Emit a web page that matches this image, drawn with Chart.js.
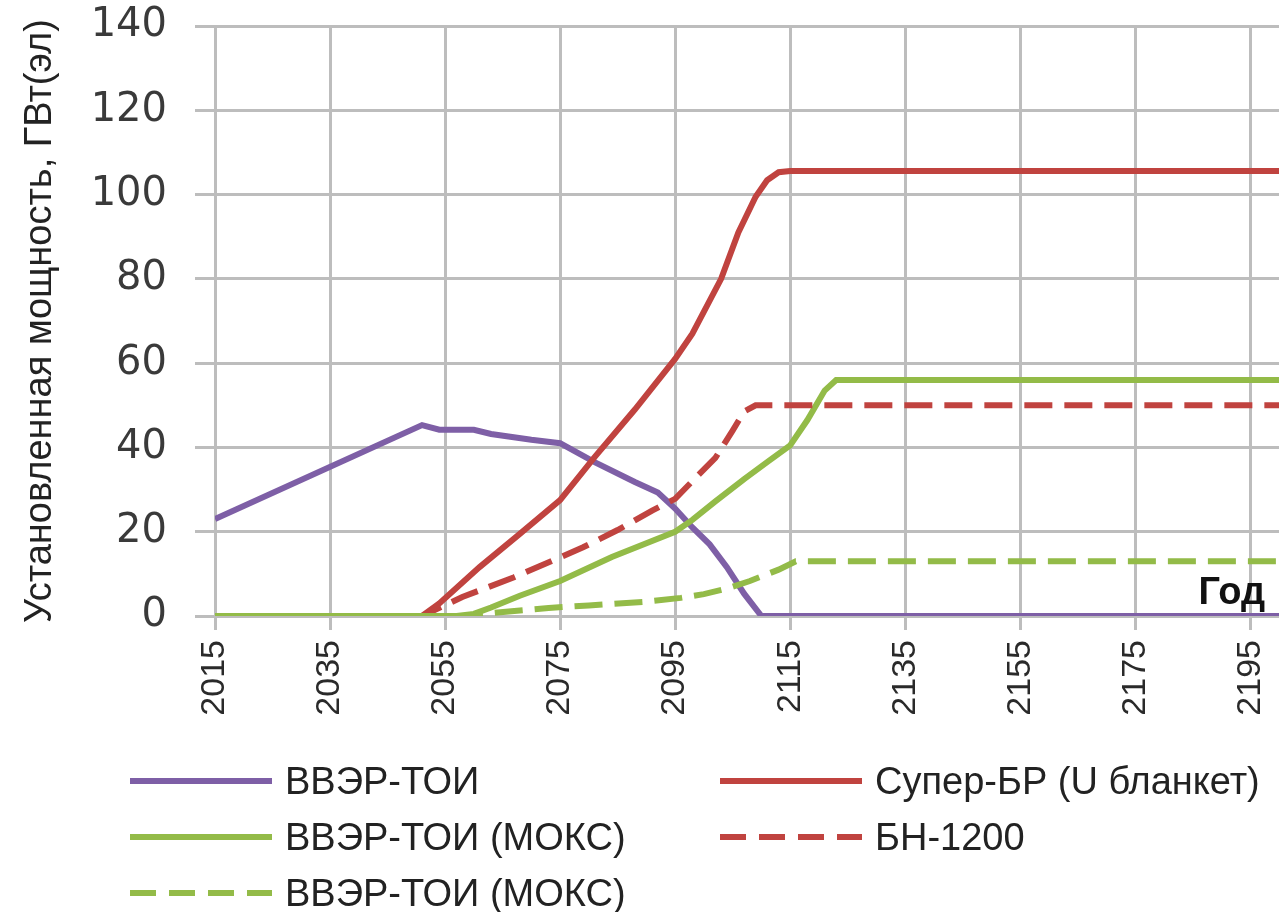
<!DOCTYPE html>
<html>
<head>
<meta charset="utf-8">
<title>Установленная мощность</title>
<script src="https://cdn.jsdelivr.net/npm/chart.js@4.4.1/dist/chart.umd.min.js"></script>
<style>
  html, body { margin: 0; padding: 0; background: #fff; }
  #wrap { position: relative; width: 1279px; height: 912px; }
  #legend {
    position: absolute; left: 130px; top: 753px;
    display: grid; grid-template-columns: 590px auto; grid-auto-rows: 56px;
    font-family: "Liberation Sans", Arial, sans-serif; font-size: 38px; color: #222;
  }
  .item { display: flex; align-items: center; white-space: nowrap; }
  .item svg { margin-right: 13px; }
</style>
</head>
<body>
<div id="wrap">
  <canvas id="chart"></canvas>
  <div id="legend"></div>
</div>
<script>
// годы на оси и подписи
var tickYears = [2015, 2035, 2055, 2075, 2095, 2115, 2135, 2155, 2175, 2195];
var yTitle = 'Установленная мощность, ГВт(эл)';
var xTitle = 'Год';

// ВВЭР-ТОИ
var vverYears  = [2015, 2051, 2054, 2060, 2063, 2070, 2075, 2081, 2088, 2092, 2095, 2098, 2101, 2104, 2107, 2110, 2200];
var vverValues = [23, 45.3, 44.2, 44.2, 43.2, 41.8, 41, 36.5, 31.8, 29.3, 25.5, 21, 17, 11.6, 5.3, 0, 0];

// Супер-БР (U бланкет)
var superYears  = [2015, 2051, 2054, 2061, 2068, 2075, 2081, 2088, 2095, 2098, 2103, 2106, 2109, 2111, 2113, 2115, 2200];
var superValues = [0, 0, 3, 11.6, 19.5, 27.5, 37.7, 49, 61, 67, 80, 91, 99.5, 103.4, 105.3, 105.6, 105.6];

// ВВЭР-ТОИ (МОКС), сплошная
var moxYears  = [2015, 2057, 2060, 2063, 2068, 2075, 2084, 2095, 2098, 2102, 2107, 2111, 2115, 2118, 2121, 2123, 2200];
var moxValues = [0, 0, 0.5, 2, 4.8, 8.3, 14, 20, 22.8, 27.2, 32.5, 36.5, 40.5, 46.5, 53.5, 56, 56];

// БН-1200
var bnYears  = [2015, 2051, 2058, 2067, 2079, 2085, 2091, 2095, 2098, 2102, 2105, 2107, 2109, 2200];
var bnValues = [0, 0, 4.5, 9.2, 16.3, 20.4, 25, 27.8, 32, 37.5, 44, 48.5, 50, 50];

// ВВЭР-ТОИ (МОКС), пунктир
var mox2Years  = [2015, 2059, 2063, 2073, 2080, 2090, 2096, 2100, 2104, 2108, 2113, 2116, 2200];
var mox2Values = [0, 0, 0.7, 1.9, 2.5, 3.4, 4.3, 5.2, 6.5, 8.3, 11, 13, 13];

function points(xs, ys) {
    return xs.map(function(x, i) { return { x: x, y: ys[i] }; });
}

var gridColor = '#bdbdbd';

var series = [
    { label: 'ВВЭР-ТОИ', data: points(vverYears, vverValues), color: '#7e5fa6', dash: [] },
    { label: 'Супер-БР (U бланкет)', data: points(superYears, superValues), color: '#c0433f', dash: [] },
    { label: 'ВВЭР-ТОИ (МОКС)', data: points(moxYears, moxValues), color: '#93bb48', dash: [] },
    { label: 'БН-1200', data: points(bnYears, bnValues), color: '#c0433f', dash: [28, 12] },
    { label: 'ВВЭР-ТОИ (МОКС)', data: points(mox2Years, mox2Values), color: '#93bb48', dash: [28, 12] }
];

// подпись "Год" внутри области графика
var yearLabel = {
    id: 'yearLabel',
    afterDatasetsDraw: function(chart) {
        var ctx = chart.ctx, area = chart.chartArea;
        ctx.save();
        ctx.font = 'bold 38px "Liberation Sans", Arial, sans-serif';
        ctx.fillStyle = '#111';
        ctx.textAlign = 'right';
        ctx.textBaseline = 'alphabetic';
        ctx.fillText(xTitle, area.right - 14, area.bottom - 12);
        ctx.restore();
    }
};

var ctx = document.getElementById('chart').getContext('2d');
var chart = new Chart(ctx, {
    type: 'line',
    data: {
        datasets: series.map(function(s, i) {
            return {
                label: s.label,
                data: s.data,
                borderColor: s.color,
                backgroundColor: s.color,
                borderDash: s.dash,
                borderWidth: 6,
                pointRadius: 0,
                fill: false,
                tension: 0,
                order: series.length - i
            };
        })
    },
    options: {
        responsive: true,
        maintainAspectRatio: false,
        animation: false,
        layout: { padding: { top: 0, right: 0, bottom: 186, left: 0 } },
        plugins: {
            legend: { display: false },
            tooltip: { enabled: false }
        },
        scales: {
            x: {
                type: 'linear',
                min: 2015,
                max: 2200,
                afterBuildTicks: function(scale) {
                    scale.ticks = tickYears.map(function(v) { return { value: v }; });
                },
                afterFit: function(scale) {
                    scale.height = 110;
                    scale.paddingLeft = 0;
                    scale.paddingRight = 0;
                },
                ticks: {
                    autoSkip: false,
                    minRotation: 90,
                    maxRotation: 90,
                    padding: 10,
                    color: '#2a2a2a',
                    font: { family: '"Liberation Sans Narrow", "Liberation Sans", sans-serif', size: 34 },
                    callback: function(v) { return String(v); }
                },
                grid: { color: gridColor, lineWidth: 3, tickLength: 14 },
                border: { display: false }
            },
            y: {
                min: 0,
                max: 140,
                afterFit: function(scale) {
                    scale.width = 215;
                    scale.paddingTop = 26;
                    scale.paddingBottom = 20;
                },
                ticks: {
                    stepSize: 20,
                    padding: 28,
                    color: '#3a3a3a',
                    font: { family: '"DejaVu Sans", sans-serif', size: 40 }
                },
                grid: { color: gridColor, lineWidth: 3, tickLength: 20 },
                border: { display: false },
                title: {
                    display: true,
                    text: yTitle,
                    color: '#222',
                    padding: { top: 18, bottom: 0 },
                    font: { family: '"Liberation Sans", Arial, sans-serif', size: 38 }
                }
            }
        }
    },
    plugins: [yearLabel]
});

// легенда в две колонки, как в исходной диаграмме
var legendBox = document.getElementById('legend');
chart.data.datasets.forEach(function(ds) {
    var item = document.createElement('div');
    item.className = 'item';
    var dash = ds.borderDash.length ? ' stroke-dasharray="26 13"' : '';
    item.innerHTML = '<svg width="142" height="12"><line x1="0" y1="6" x2="142" y2="6" stroke="' +
        ds.borderColor + '" stroke-width="6"' + dash + '/></svg>';
    var span = document.createElement('span');
    span.textContent = ds.label;
    item.appendChild(span);
    legendBox.appendChild(item);
});
</script>
</body>
</html>
